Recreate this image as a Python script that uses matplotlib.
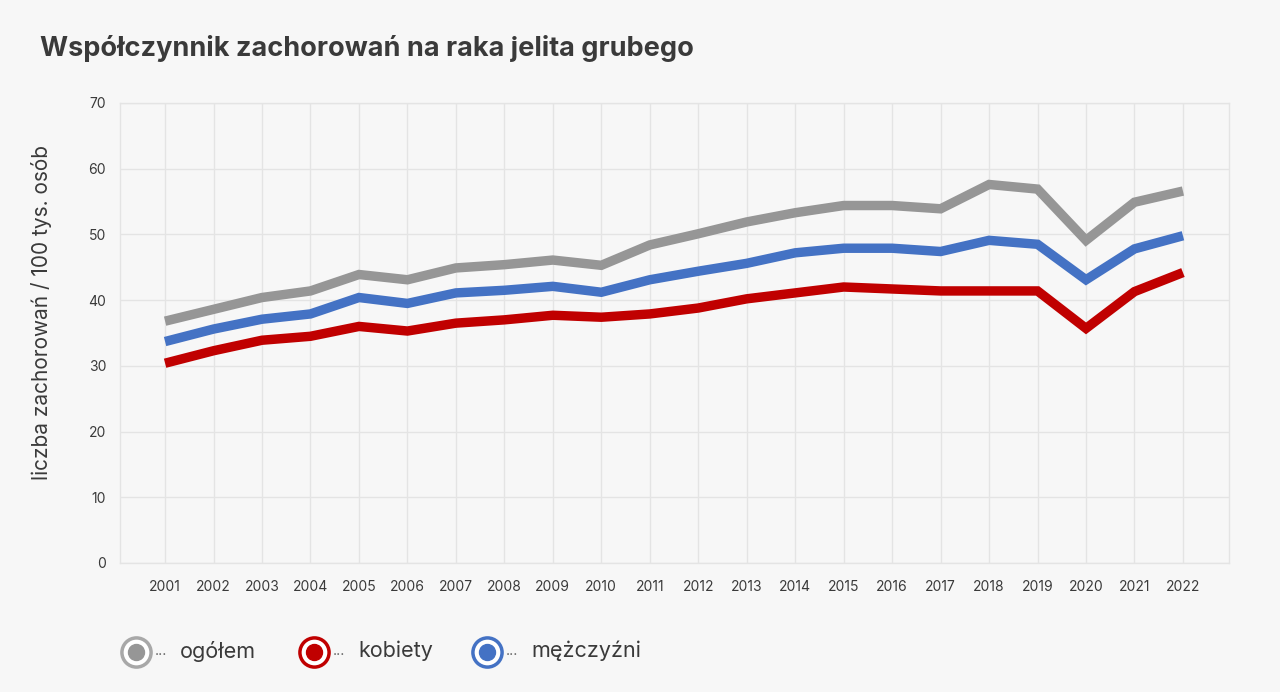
import matplotlib
matplotlib.use('Agg')
import matplotlib.pyplot as plt
import numpy as np

plt.rcParams['font.family'] = ['Inter', 'DejaVu Sans']

years = [str(y) for y in range(2001, 2023)]

ogolem = [36.8, 38.6, 40.4, 41.4, 43.9, 43.1, 44.9, 45.4, 46.1, 45.3, 48.4, 50.1,
          51.9, 53.3, 54.4, 54.4, 53.9, 57.6, 56.9, 49.1, 54.9, 56.6]
kobiety = [30.4, 32.3, 33.9, 34.5, 36.0, 35.3, 36.5, 37.0, 37.7, 37.4, 37.9, 38.8,
           40.2, 41.1, 42.0, 41.7, 41.4, 41.4, 41.4, 35.7, 41.3, 44.2]
mezczyzni = [33.7, 35.6, 37.1, 37.9, 40.4, 39.5, 41.1, 41.5, 42.1, 41.2, 43.1, 44.4,
             45.6, 47.2, 47.9, 47.9, 47.4, 49.1, 48.5, 43.1, 47.8, 49.8]

series_names = ['ogółem', 'kobiety', 'mężczyźni']
series_colors = ['#969696', '#C00000', '#4472C4']
ring_colors = ['#A8A8A8', '#C00000', '#4472C4']

bg = '#F7F7F7'
grid_c = '#E4E4E4'
text_c = '#3A3A3A'

fig = plt.figure(figsize=(12.8, 6.92), dpi=100, facecolor=bg)
ax = fig.add_axes([120/1280, 1 - 563/692, (1229-120)/1280, (563-103)/692])
ax.set_facecolor(bg)

x = np.arange(len(years))
for vals, c in zip([ogolem, kobiety, mezczyzni], series_colors):
    ax.plot(x, vals, color=c, lw=6.8, solid_joinstyle='miter', solid_capstyle='butt', zorder=3)

ax.set_xlim(-0.93, 21.95)
ax.set_ylim(0, 70)
ax.set_yticks(range(0, 71, 10))
ax.set_xticks(x)
ax.set_xticklabels(years)
ax.grid(True, color=grid_c, lw=1)
ax.set_axisbelow(True)
for s in ax.spines.values():
    s.set_color(grid_c)
    s.set_linewidth(1)
ax.tick_params(axis='both', length=0, colors=text_c, labelsize=10)
ax.tick_params(axis='x', pad=12)
ax.tick_params(axis='y', pad=10)

fig.text(42/1280, 1 - 312/692, 'liczba zachorowań / 100 tys. osób', rotation=90,
         fontsize=15, color=text_c, va='center', ha='center')

fig.text(40/1280, 1 - 48/692, 'Współczynnik zachorowań na raka jelita grubego',
         fontsize=19.5, fontweight='bold', color=text_c, va='center', ha='left')

# legend drawn in figure pixel coordinates
lg = fig.add_axes([0, 0, 1, 1], facecolor='none')
lg.set_xlim(0, 1280)
lg.set_ylim(692, 0)
lg.axis('off')
leg_x = [136, 314, 487]
for lx, name, c, rc in zip(leg_x, series_names, series_colors, ring_colors):
    lg.plot(lx, 652, 'o', ms=21, mfc='white', mec=rc, mew=2.5)
    lg.plot(lx, 652, 'o', ms=11.5, mfc=c, mec=c)
    lg.text(lx + 19, 655, '···', fontsize=10, color='#666666', va='center', ha='left')
    lg.text(lx + 44, 651, name, fontsize=15.5, color=text_c, va='center', ha='left')

fig.savefig('out.png', dpi=100, facecolor=bg)
